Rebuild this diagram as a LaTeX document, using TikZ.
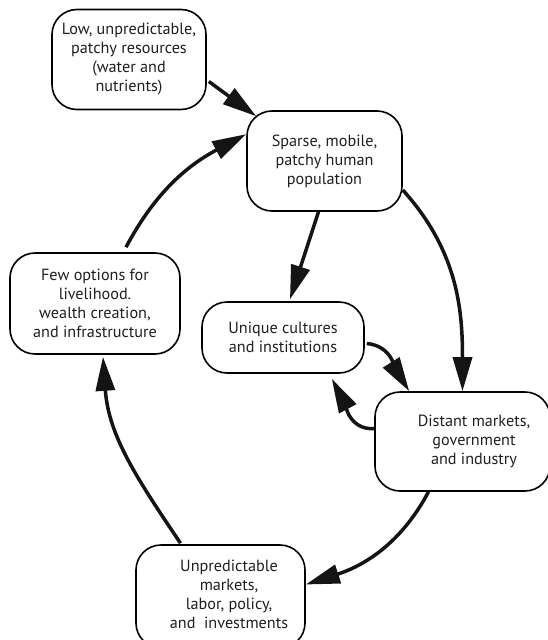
\documentclass[tikz,border=0pt]{standalone}
\usepackage{fontspec}
\setmainfont{PT Sans}
\usetikzlibrary{arrows.meta,calc}
\tikzset{
  box/.style={draw=black, line width=1.6pt, rounded corners=25pt, align=center,
    inner sep=0pt, font=\fontsize{16.2}{19}\selectfont, text=black!88},
  conn/.style={line width=3.5pt, draw=black!92,
    -{Triangle[length=34pt,width=19pt]}, shorten >=0pt},
}
\begin{document}
\begin{tikzpicture}[x=1pt,y=-1pt]
\useasboundingbox (0,0) rectangle (548,640);
\node[box, minimum width=154pt, minimum height=100pt] (n1) at (129,59.5)
  {Low, unpredictable,\\ patchy resources\\(water and\\nutrients)};
\node[box, minimum width=155pt, minimum height=100pt] (n2) at (324.5,161)
  {Sparse, mobile,\\patchy human\\population};
\node[box, minimum width=170pt, minimum height=101pt] (n3) at (95,303.5)
  {Few options for\\livelihood.\\wealth creation,\\and infrastructure};
\node[box, minimum width=162pt, minimum height=71pt] (n4) at (283,337.5)
  {Unique cultures\\and institutions};
\node[box, minimum width=175pt, minimum height=99pt] (n5) at (462.5,441.5)
  {\hspace*{23pt}\begin{tabular}{@{}c@{}}Distant markets,\\government\\and industry\end{tabular}};
\node[box, minimum width=169pt, minimum height=103pt] (n6) at (220.5,596.5)
  {\hspace*{17pt}\begin{tabular}{@{}c@{}}Unpredictable\\markets,\\labor, policy,\\and\ \ investments\end{tabular}};
% connectors
\draw[conn] ($(n1.east)+(2,22)$) -- ($(n2.north west)+(10,6)$);
\draw[conn] ($(n3.north)+(31,-5)$) to[out=62,in=208] ($(n2.north west)+(0,24)$);
\draw[conn] ($(n2.south)+(-6,0)$) -- ($(n4.north)+(7,-2)$);
\draw[conn] ($(n2.east)+(0,29)$) to[out=-48,in=90] ($(n5.north)+(0,0)$);
\draw[conn] ($(n4.east)+(2,6)$) to[out=-5,in=122] ($(n5.north west)+(35,0)$);
\draw[conn] ($(n5.west)+(0,-13)$) to[out=185,in=-62] ($(n4.south east)+(-33,5)$);
\draw[conn] ($(n5.south)+(-34,0)$) to[out=-118,in=18] ($(n6.east)+(0,-12)$);
\draw[conn] ($(n6.north)+(-40,-1)$) to[out=124,in=-86] ($(n3.south)+(8,2)$);
\end{tikzpicture}
\end{document}
